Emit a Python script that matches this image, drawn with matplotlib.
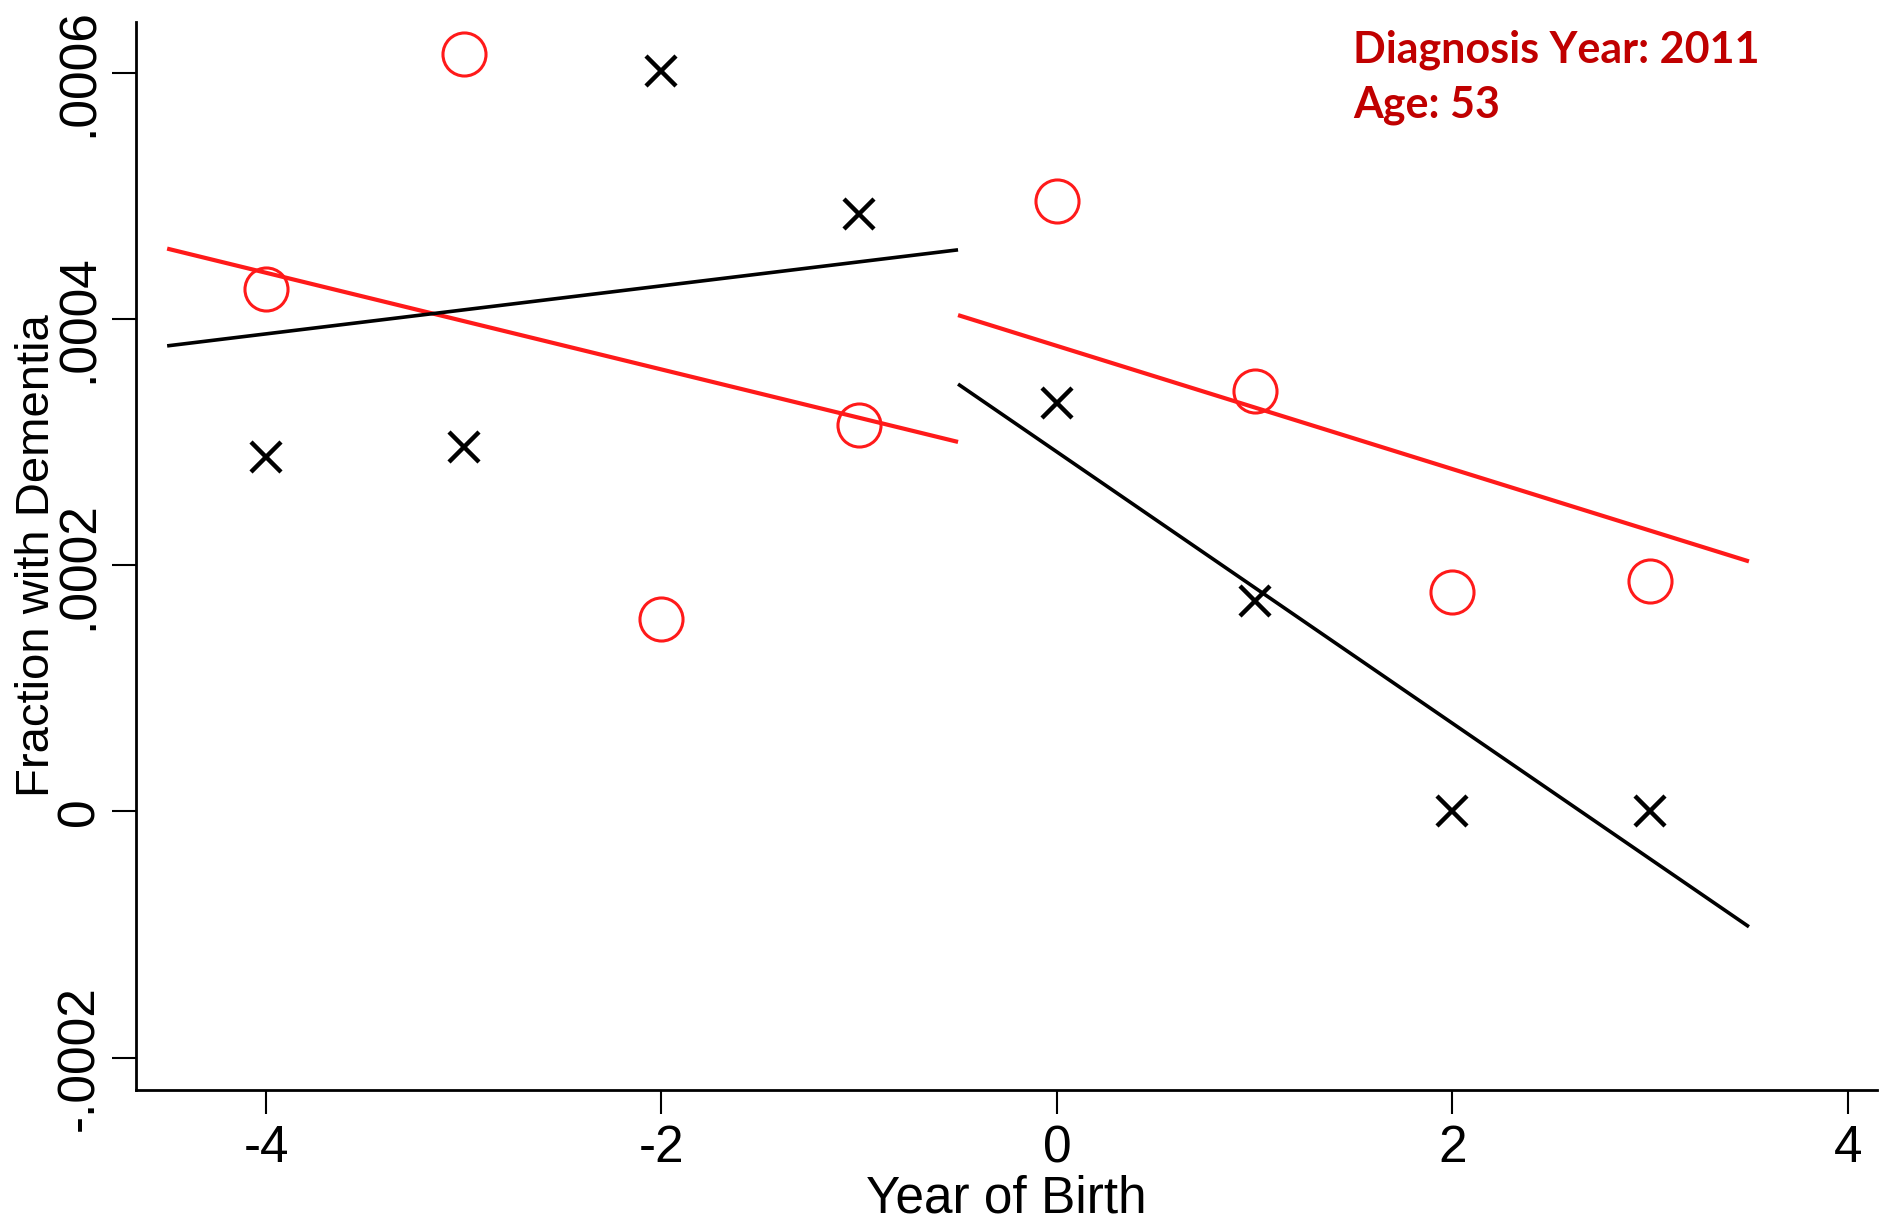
import matplotlib
matplotlib.use("Agg")
import matplotlib.pyplot as plt

# ---- data ----
years = [-4, -3, -2, -1, 0, 1, 2, 3]
red_circles = [0.000424, 0.000615, 0.000156, 0.000314, 0.000496, 0.000341, 0.000178, 0.000187]
black_x = [0.000288, 0.000296, 0.000601, 0.000485, 0.000332, 0.000171, 0.0, 0.0]

fit_left_x = [-4.5, -0.5]
fit_right_x = [-0.5, 3.5]
red_fit_left = [0.000457, 0.000300]
red_fit_right = [0.000403, 0.000203]
black_fit_left = [0.000378, 0.000456]
black_fit_right = [0.000347, -0.0000937]

xticks = [-4, -2, 0, 2, 4]
yticks = [-0.0002, 0.0, 0.0002, 0.0004, 0.0006]
ytick_labels = ["-.0002", "0", ".0002", ".0004", ".0006"]

FONT = "Liberation Sans"
RED = "#FF1A1A"
fig = plt.figure(figsize=(18.85, 12.23), dpi=100)
ax = fig.add_axes([0.0722, 0.109, 0.9238, 0.873])

ax.plot(fit_left_x, red_fit_left, color=RED, lw=3.0, solid_capstyle="butt")
ax.plot(fit_right_x, red_fit_right, color=RED, lw=3.0, solid_capstyle="butt")
ax.plot(fit_left_x, black_fit_left, color="black", lw=2.6, solid_capstyle="butt")
ax.plot(fit_right_x, black_fit_right, color="black", lw=2.6, solid_capstyle="butt")

ax.plot(years, red_circles, linestyle="none", marker="o", markersize=31,
        markerfacecolor="none", markeredgecolor=RED, markeredgewidth=2.2)
ax.plot(years, black_x, linestyle="none", marker="x", markersize=22,
        color="black", markeredgewidth=3.2)

ax.set_xlim(-4.657, 4.15)
ax.set_ylim(-0.000226, 0.000641)
ax.set_xticks(xticks)
ax.set_xticklabels([str(t) for t in xticks])
ax.set_yticks(yticks)
ax.set_yticklabels(ytick_labels, rotation=90, va="center")

for s in ["top", "right"]:
    ax.spines[s].set_visible(False)
for s in ["left", "bottom"]:
    ax.spines[s].set_linewidth(2.0)

ax.tick_params(axis="both", direction="out", length=17, width=1.5, labelsize=37)
ax.tick_params(axis="y", pad=6)
ax.tick_params(axis="x", pad=8)
for lab in ax.get_xticklabels() + ax.get_yticklabels():
    lab.set_fontfamily(FONT)

ax.set_xlabel("Year of Birth", fontsize=37, fontfamily=FONT)
ax.set_ylabel("Fraction with Dementia", fontsize=34, fontfamily=FONT)
ax.xaxis.set_label_coords(0.5, -0.079)
ax.yaxis.set_label_coords(-0.0445, 0.5)

fig.text(0.718, 0.976, "Diagnosis Year: 2011\nAge: 53", color="#C00000",
         fontsize=31, fontweight="bold", fontfamily="Lato", va="top", ha="left",
         linespacing=1.45)

fig.savefig("out.png", dpi=100)
